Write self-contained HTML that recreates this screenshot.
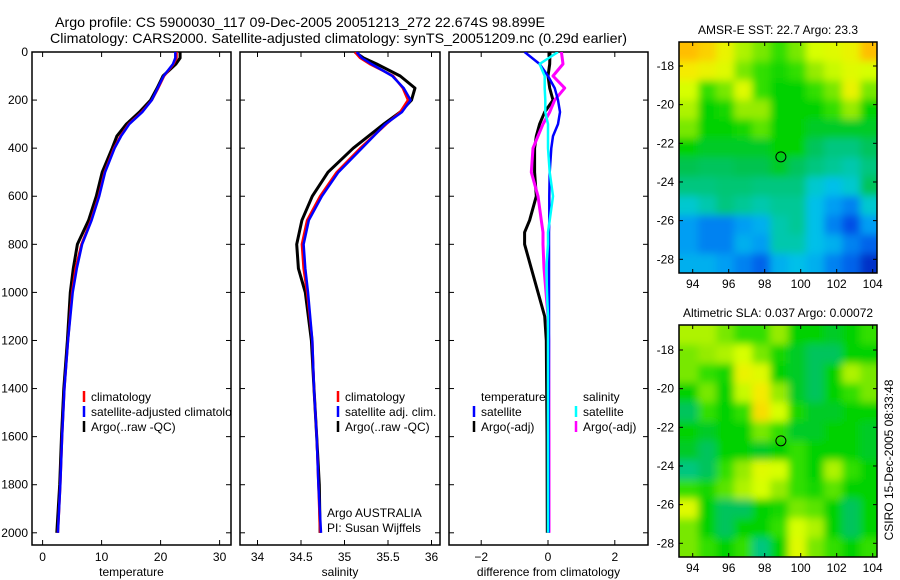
<!DOCTYPE html>
<html><head><meta charset="utf-8"><style>
body{margin:0;background:#fff}
svg{display:block;font-family:"Liberation Sans",sans-serif}
</style></head><body>
<svg id="c" width="900" height="580" viewBox="0 0 900 580">
<defs>
<clipPath id="cp1"><rect x="32" y="52" width="199" height="493"/></clipPath>
<clipPath id="cp2"><rect x="240" y="52" width="200" height="493"/></clipPath>
<clipPath id="cp3"><rect x="449" y="52" width="199" height="493"/></clipPath>
<clipPath id="cm1"><rect x="679" y="42" width="198" height="231"/></clipPath>
<clipPath id="cm2"><rect x="679" y="325" width="198" height="232"/></clipPath>
<filter id="bl" filterUnits="userSpaceOnUse" x="640" y="0" width="260" height="580"><feGaussianBlur stdDeviation="4"/></filter>
</defs>
<text x="55" y="27" font-size="14" textLength="490" lengthAdjust="spacingAndGlyphs">Argo profile: CS 5900030_117 09-Dec-2005 20051213_272 22.674S 98.899E</text>
<text x="50" y="43" font-size="14" textLength="577" lengthAdjust="spacingAndGlyphs">Climatology: CARS2000. Satellite-adjusted climatology: synTS_20051209.nc (0.29d earlier)</text>
<g id="g"></g>
<text x="0" y="0" font-size="12" transform="translate(893,460) rotate(-90)" text-anchor="middle">CSIRO 15-Dec-2005 08:33:48</text>
</svg>
<script>
// ---- data ----
const depthT = [0,25,50,100,150,200,250,300,350,400,500,600,700,800,900,1000,1200,1400,1600,1800,2000];
const tempClim = [22.7,22.7,22.2,20.6,19.6,18.5,16.8,14.6,13.2,12.1,10.5,9.5,8.2,6.6,5.6,5.0,4.3,3.7,3.3,3.0,2.6];
const tempSat  = [22.5,22.5,22.1,20.5,19.5,18.5,16.9,14.7,13.3,12.2,10.6,9.6,8.3,6.7,5.8,5.1,4.3,3.7,3.3,3.0,2.6];
const tempArgo = [23.3,23.3,22.6,20.4,19.4,18.3,16.4,14.2,12.6,11.8,10.1,9.1,7.8,5.9,5.2,4.7,4.2,3.6,3.2,2.9,2.4];
const depthS = [0,25,50,100,150,200,250,300,400,500,600,700,800,900,1000,1200,1400,1600,1800,2000];
const salClim = [35.12,35.18,35.29,35.56,35.67,35.73,35.64,35.48,35.18,34.91,34.72,34.57,34.51,34.53,34.57,34.63,34.65,34.68,34.70,34.72];
const salSat  = [35.14,35.2,35.31,35.55,35.68,35.76,35.66,35.47,35.2,34.93,34.74,34.59,34.53,34.55,34.58,34.63,34.65,34.68,34.70,34.73];
const salArgo = [35.12,35.22,35.37,35.64,35.81,35.77,35.64,35.45,35.10,34.81,34.63,34.51,34.45,34.47,34.55,34.62,34.65,34.68,34.71,34.72];
const depthD = [0,50,100,150,200,250,300,350,400,500,600,700,750,800,900,1000,1100,1200,1600,2000];
const dTempSat  = [-0.7,-0.25,0,0.2,0.3,0.36,0.3,0.15,0.1,0.05,0.04,0.04,0.03,0.03,0.03,0.03,0.03,0.03,0.02,0.02];
const dTempArgo = [0.06,0.05,0,0.05,0.15,-0.1,-0.25,-0.35,-0.4,-0.4,-0.35,-0.55,-0.7,-0.7,-0.5,-0.3,-0.1,-0.05,-0.03,-0.02];
const dSalSat   = [0.3,-0.25,-0.1,-0.1,-0.08,-0.08,0,0,0,0.05,0.15,0.05,0,0,-0.05,-0.03,0,0,0,0];
const dSalArgo  = [0.4,0.45,0.15,0.5,0.2,0.05,-0.15,-0.3,-0.45,-0.5,-0.3,-0.2,-0.15,-0.15,-0.12,-0.06,0,0.02,0.03,0.03];
const depthTicks = [0,200,400,600,800,1000,1200,1400,1600,1800,2000];
const tempTicks = [0,10,20,30];
const salTicks = [34,34.5,35,35.5,36];
const diffTicks = [-2,0,2];
const lonTicks = [94,96,98,100,102,104];
const latTicks = [-18,-20,-22,-24,-26,-28];
const sstGrid = [
[0.85,0.82,0.75,0.65,0.6,0.55,0.6,0.7,0.72,0.75,0.85],
[0.78,0.75,0.72,0.6,0.55,0.52,0.55,0.62,0.68,0.72,0.7],
[0.7,0.55,0.6,0.72,0.55,0.5,0.5,0.55,0.6,0.75,0.6],
[0.65,0.5,0.52,0.62,0.62,0.5,0.5,0.5,0.55,0.62,0.5],
[0.6,0.5,0.5,0.52,0.58,0.5,0.5,0.48,0.48,0.48,0.48],
[0.5,0.48,0.48,0.48,0.48,0.5,0.5,0.45,0.42,0.42,0.45],
[0.46,0.45,0.45,0.46,0.46,0.48,0.45,0.42,0.4,0.38,0.42],
[0.42,0.42,0.43,0.43,0.42,0.42,0.42,0.35,0.32,0.35,0.45],
[0.35,0.38,0.42,0.4,0.38,0.4,0.4,0.32,0.28,0.25,0.35],
[0.28,0.25,0.25,0.28,0.3,0.38,0.4,0.32,0.25,0.2,0.28],
[0.28,0.25,0.25,0.3,0.28,0.38,0.38,0.32,0.3,0.25,0.22],
[0.3,0.3,0.28,0.25,0.22,0.3,0.32,0.3,0.25,0.22,0.15]];
const slaGrid = [
[0.65,0.65,0.6,0.55,0.55,0.62,0.5,0.5,0.48,0.5,0.55],
[0.6,0.62,0.65,0.7,0.6,0.52,0.48,0.45,0.45,0.5,0.5],
[0.6,0.55,0.52,0.75,0.72,0.5,0.48,0.45,0.5,0.65,0.6],
[0.5,0.6,0.5,0.68,0.78,0.62,0.48,0.45,0.5,0.55,0.6],
[0.45,0.55,0.5,0.55,0.8,0.7,0.52,0.48,0.48,0.5,0.5],
[0.5,0.48,0.5,0.5,0.6,0.55,0.48,0.48,0.5,0.5,0.48],
[0.48,0.45,0.5,0.5,0.48,0.5,0.55,0.5,0.5,0.5,0.48],
[0.42,0.45,0.55,0.62,0.72,0.7,0.55,0.5,0.65,0.55,0.5],
[0.55,0.52,0.58,0.65,0.7,0.62,0.55,0.52,0.58,0.5,0.5],
[0.72,0.5,0.45,0.45,0.5,0.52,0.6,0.58,0.5,0.45,0.5],
[0.6,0.5,0.45,0.5,0.5,0.55,0.7,0.65,0.5,0.45,0.5],
[0.6,0.55,0.5,0.55,0.42,0.5,0.72,0.6,0.55,0.5,0.55]];

const NS='http://www.w3.org/2000/svg';
const G=document.getElementById('g');
function el(tag,attrs,parent){const e=document.createElementNS(NS,tag);for(const k in attrs)e.setAttribute(k,attrs[k]);(parent||G).appendChild(e);return e;}
const yD = d => 52 + d*0.2404;
const xT = v => 42.6 + v*5.9;
const xS = v => 257.5 + (v-34)*87;
const xDf = v => 548 + v*33.4;
const BOT=545;

function panel(name,x0,x1,xf,ticks,labelFmt,xlabel,showY){
  const r=el('rect',{x:x0,y:52,width:x1-x0,height:BOT-52,fill:'none',stroke:'#000','stroke-width':1.5});
  
  
  ticks.forEach(t=>{const x=xf(t);
    el('line',{x1:x,x2:x,y1:52,y2:57,stroke:'#000'});
    el('line',{x1:x,x2:x,y1:BOT,y2:BOT-5,stroke:'#000'});
    const tx=el('text',{x:x,y:BOT+16,'font-size':12,'text-anchor':'middle'});tx.textContent=labelFmt(t);
    
    
  });
  depthTicks.forEach(d=>{const y=yD(d);
    el('line',{x1:x0,x2:x0+5,y1:y,y2:y,stroke:'#000'});
    el('line',{x1:x1,x2:x1-5,y1:y,y2:y,stroke:'#000'});
    if(showY){const tx=el('text',{x:x0-4,y:y+4,'font-size':12,'text-anchor':'end'});tx.textContent=d;
      
      }
  });
  const xl=el('text',{x:(x0+x1)/2,y:576,'font-size':12,'text-anchor':'middle'});xl.textContent=xlabel;
  
  
}
function line(vals,depths,xf,color,clip,name,w){
  const pts=vals.map((v,i)=>xf(v).toFixed(1)+','+yD(depths[i]).toFixed(1)).join(' ');
  const p=el('polyline',{points:pts,fill:'none',stroke:color,'stroke-width':w||2.5,'clip-path':'url(#'+clip+')','stroke-linejoin':'round'});
  
  
}
function legend(x,y,color,txt,name,clip){
  if(color){const m=el('line',{x1:x,x2:x,y1:y-10,y2:y+1,stroke:color,'stroke-width':2.5});}
  const t=el('text',{x:x+7,y:y,'font-size':12});t.textContent=txt;
  if(clip)t.setAttribute('clip-path','url(#'+clip+')');
  
  
}

panel('temperature-panel',32,231,xT,tempTicks,t=>t,'temperature',true);
panel('salinity-panel',240,440,xS,salTicks,t=>t,'salinity',false);
panel('difference-panel',449,648,xDf,diffTicks,t=>t<0?'\u2212'+(-t):t,'difference from climatology',false);

line(tempArgo,depthT,xT,'#000','cp1','temp-argo-line',3);
line(tempClim,depthT,xT,'#f00','cp1','temp-climatology-line');
line(tempSat,depthT,xT,'#00f','cp1','temp-satellite-line');
line(salArgo,depthS,xS,'#000','cp2','sal-argo-line',3);
line(salClim,depthS,xS,'#f00','cp2','sal-climatology-line');
line(salSat,depthS,xS,'#00f','cp2','sal-satellite-line');
line(dTempArgo,depthD,xDf,'#000','cp3','diff-temp-argo-line',3);
line(dSalArgo,depthD,xDf,'#f0f','cp3','diff-sal-argo-line',3);
line(dTempSat,depthD,xDf,'#00f','cp3','diff-temp-satellite-line');
line(dSalSat,depthD,xDf,'#0ff','cp3','diff-sal-satellite-line');

legend(84,401,'#f00','climatology','legend-climatology');
legend(84,416,'#00f','satellite-adjusted climatology','legend-satellite-adjusted','cp1');
legend(84,431,'#000','Argo(..raw -QC)','legend-argo');
legend(338,401,'#f00','climatology','legend-sal-climatology');
legend(338,416,'#00f','satellite adj. clim.','legend-sal-satellite');
legend(338,431,'#000','Argo(..raw -QC)','legend-sal-argo');
legend(474,401,null,'temperature','legend-temperature-heading');
legend(474,416,'#00f','satellite','legend-diff-temp-satellite');
legend(474,431,'#000','Argo(-adj)','legend-diff-temp-argo');
legend(576,401,null,'salinity','legend-salinity-heading');
legend(576,416,'#0ff','satellite','legend-diff-sal-satellite');
legend(576,431,'#f0f','Argo(-adj)','legend-diff-sal-argo');
legend(320,517,null,'Argo AUSTRALIA','argo-australia-label');
legend(320,532,null,'PI: Susan Wijffels','pi-label');

// colormap
const cmStops=[[0.1,[0,20,170]],[0.2,[0,80,230]],[0.27,[0,150,245]],[0.33,[0,200,230]],[0.4,[0,200,150]],[0.46,[0,195,80]],[0.5,[0,210,0]],[0.56,[60,225,0]],[0.62,[150,235,0]],[0.7,[215,255,0]],[0.78,[245,235,0]],[0.85,[255,190,0]],[0.92,[255,140,0]]];
function cmap(v){
  if(v<=cmStops[0][0])return 'rgb('+cmStops[0][1]+')';
  for(let i=1;i<cmStops.length;i++){if(v<=cmStops[i][0]){const a=cmStops[i-1],b=cmStops[i];const f=(v-a[0])/(b[0]-a[0]);
    return 'rgb('+a[1].map((c,k)=>Math.round(c+(b[1][k]-c)*f)).join(',')+')';}}
  return 'rgb('+cmStops[cmStops.length-1][1]+')';
}
function map(name,grid,top,lat18y,clip,title,bottom){
  const xL=lon=>692.7+(lon-94)*18;
  const yL=lat=>lat18y+(-18-lat)*19.33;
  const left=679,right=877;
  const g=el('g',{'clip-path':'url(#'+clip+')'});
  
  
  const inner=el('g',{filter:'url(#bl)'},g);
  const rows=grid.length,cols=grid[0].length;
  const latTop=-18+(lat18y-top)/19.33;
  const latBot=-18-(bottom-lat18y)/19.33;
  const dLat=(latTop-latBot)/rows;
  grid.forEach((row,r)=>row.forEach((v,c)=>{
    const lon0=93.3+c, lat0=latTop-r*dLat;
    const x=xL(lon0), y=yL(lat0);
    const cell=el('rect',{x:x-(c==0?10:0),y:y-(r==0?10:0),width:xL(lon0+1)-x+1+(c==0?10:0)+(c==cols-1?10:0),height:yL(lat0-dLat)-y+1+(r==0?10:0)+(r==rows-1?10:0),fill:cmap(v)},inner);
    
    
  }));
  const fr=el('rect',{x:left,y:top,width:right-left,height:bottom-top,fill:'none',stroke:'#000','stroke-width':1.5});
  
  
  lonTicks.forEach(l=>{const x=xL(l);
    el('line',{x1:x,x2:x,y1:top,y2:top+4,stroke:'#000'});el('line',{x1:x,x2:x,y1:bottom,y2:bottom-4,stroke:'#000'});
    const t=el('text',{x:x,y:bottom+15,'font-size':12,'text-anchor':'middle'});t.textContent=l;
    
    });
  latTicks.forEach(l=>{const y=yL(l);
    el('line',{x1:left,x2:left+4,y1:y,y2:y,stroke:'#000'});el('line',{x1:right,x2:right-4,y1:y,y2:y,stroke:'#000'});
    const t=el('text',{x:left-5,y:y+4,'font-size':12,'text-anchor':'end'});t.textContent=l;
    
    });
  const m=el('circle',{cx:xL(98.9),cy:yL(-22.7),r:5,fill:'none',stroke:'#000','stroke-width':1});
  
  
  const tt=el('text',{x:778,y:top-8,'font-size':12,'text-anchor':'middle'});tt.textContent=title;
  
  
}
map('sst-map',sstGrid,42,66,'cm1','AMSR-E SST: 22.7 Argo: 23.3',273);
map('sla-map',slaGrid,325,350,'cm2','Altimetric SLA: 0.037 Argo: 0.00072',557);
</script>
</body></html>
